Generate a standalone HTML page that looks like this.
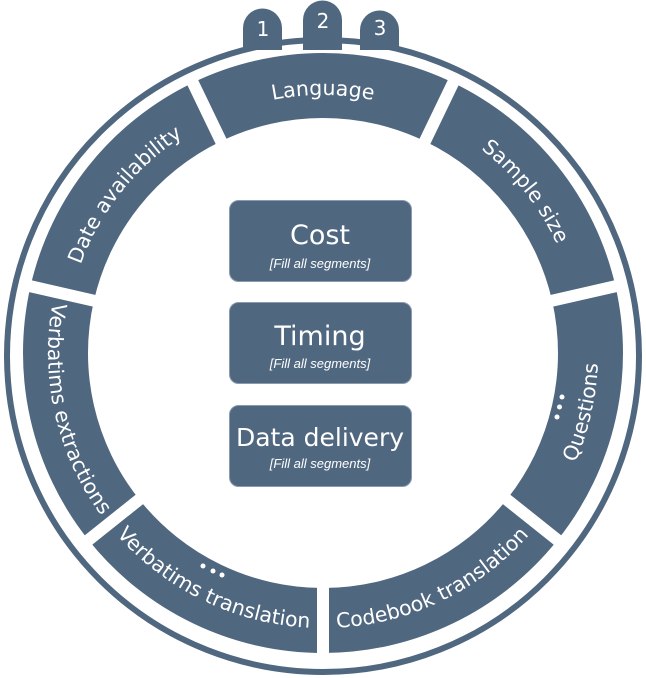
<!DOCTYPE html>
<html><head><meta charset="utf-8">
<style>
html,body{margin:0;padding:0;background:#fff;}
svg{display:block;}
.seg{font-family:"DejaVu Sans","Liberation Sans",sans-serif;font-size:20.5px;fill:#fff;}
</style></head>
<body>
<svg id="s" width="646" height="678" viewBox="0 0 646 678" xmlns="http://www.w3.org/2000/svg">
  <g fill="#506780">
    <path d="M243,50 V28 A19.5,19.5 0 0 1 282,28 V50 Z"/>
    <path d="M303,50 V20 A19.5,19.5 0 0 1 342,20 V50 Z"/>
    <path d="M360,50 V30 A19.5,19.5 0 0 1 399,30 V50 Z"/>
  </g>
  <g font-family="DejaVu Sans, Liberation Sans, sans-serif" font-size="20" fill="#fff" text-anchor="middle">
    <text x="263" y="36">1</text>
    <text x="323" y="28">2</text>
    <text x="380" y="35">3</text>
  </g>
  <circle cx="323" cy="356" r="316" fill="none" stroke="#506780" stroke-width="6"/>
  <g id="segs"></g>
  <g id="gaps"></g>
  <g id="texts"></g>
  <g fill="#fff">
    <circle cx="562" cy="397" r="2.5"/><circle cx="559.5" cy="407" r="2.5"/><circle cx="557" cy="417" r="2.5"/>
    <circle cx="203" cy="566" r="2.5"/><circle cx="213" cy="571" r="2.5"/><circle cx="222" cy="575" r="2.5"/>
  </g>
  <g fill="#506780" stroke="#8a9bb0" stroke-width="1">
    <rect x="229.5" y="200.5" width="182" height="81" rx="9"/>
    <rect x="229.5" y="302.5" width="182" height="81" rx="9"/>
    <rect x="229.5" y="405.5" width="182" height="81" rx="9"/>
  </g>
  <g fill="#fff" text-anchor="middle">
    <g font-family="DejaVu Sans, Liberation Sans, sans-serif" font-size="27">
      <text x="320" y="244">Cost</text>
      <text x="320" y="345">Timing</text>
      <text x="320" y="446" font-size="25">Data delivery</text>
    </g>
    <g font-family="Liberation Sans, sans-serif" font-size="13" font-style="italic">
      <text x="320" y="268">[Fill all segments]</text>
      <text x="320" y="368">[Fill all segments]</text>
      <text x="320" y="468">[Fill all segments]</text>
    </g>
  </g>
</svg>
<script>
(function(){
  var NS="http://www.w3.org/2000/svg";
  var cx=323, cy=353, R1=235, R2=300;
  var col="#506780";
  var labels=["Language","Sample size","Questions","Codebook translation","Verbatims translation","Verbatims extractions","Date availability"];
  var cw=[true,true,false,false,false,false,true];
  var step=360/7;
  function pt(r,a){var t=a*Math.PI/180;return [cx+r*Math.cos(t),cy+r*Math.sin(t)];}
  var segs=document.getElementById("segs"),gaps=document.getElementById("gaps"),texts=document.getElementById("texts");
  var defs=document.createElementNS(NS,"defs");document.getElementById("s").appendChild(defs);
  for(var i=0;i<7;i++){
    var c=-90+i*step, a0=c-step/2, a1=c+step/2;
    var p1=pt(R2,a0),p2=pt(R2,a1),p3=pt(R1,a1),p4=pt(R1,a0);
    var d="M"+p1+" A"+R2+","+R2+" 0 0 1 "+p2+" L"+p3+" A"+R1+","+R1+" 0 0 0 "+p4+" Z";
    var e=document.createElementNS(NS,"path");e.setAttribute("d",d);e.setAttribute("fill",col);segs.appendChild(e);
    var g1=pt(R1-10,a0),g2=pt(R2+5,a0);
    var l=document.createElementNS(NS,"line");
    l.setAttribute("x1",g1[0]);l.setAttribute("y1",g1[1]);l.setAttribute("x2",g2[0]);l.setAttribute("y2",g2[1]);
    l.setAttribute("stroke","#fff");l.setAttribute("stroke-width","12");gaps.appendChild(l);
    var span=40, pd, r;
    if(cw[i]){r=258;var q1=pt(r,c-span),q2=pt(r,c+span);pd="M"+q1+" A"+r+","+r+" 0 0 1 "+q2;}
    else{r=275;var q1=pt(r,c+span),q2=pt(r,c-span);pd="M"+q1+" A"+r+","+r+" 0 0 0 "+q2;}
    var pp=document.createElementNS(NS,"path");pp.setAttribute("id","tp"+i);pp.setAttribute("d",pd);defs.appendChild(pp);
    var t=document.createElementNS(NS,"text");t.setAttribute("class","seg");t.setAttribute("text-anchor","middle");
    var tp=document.createElementNS(NS,"textPath");tp.setAttribute("href","#tp"+i);tp.setAttribute("startOffset","50%");
    tp.textContent=labels[i];t.appendChild(tp);texts.appendChild(t);
  }
})();
</script>
</body></html>
